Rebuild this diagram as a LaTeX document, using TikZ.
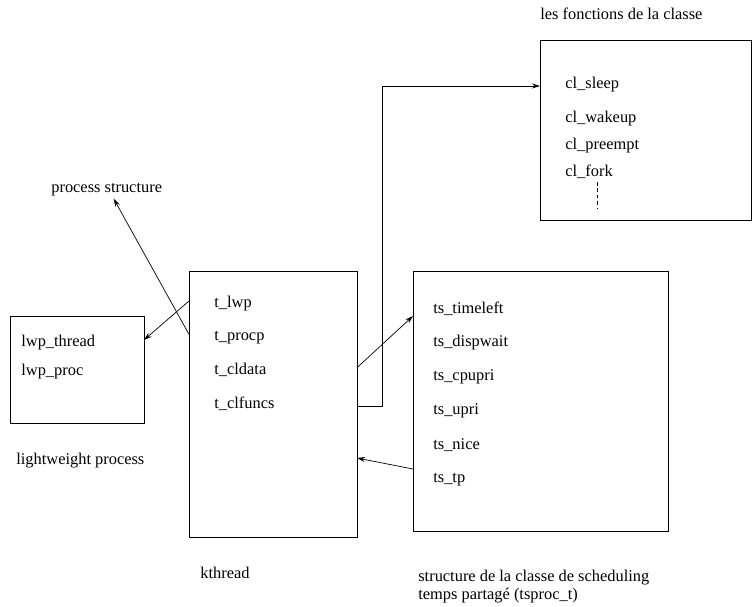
\documentclass[tikz,border=0pt]{standalone}
\usepackage{fontspec}
\setmainfont{Liberation Serif}
\usepackage{tikz}
\usetikzlibrary{arrows.meta,positioning,calc}

\begin{document}
\begin{tikzpicture}[x=0.03cm, y=-0.03cm, node distance=1.02cm,
    font=\fontsize{14}{17}\selectfont, line width=0.6pt,
    >={Stealth[length=2.4mm, width=1.5mm]}]
    % Define styles
    \tikzstyle{structbox} = [rectangle, draw, anchor=north west, inner sep=0pt, outer sep=0pt]
    \tikzstyle{field} = [text width=3cm, align=left, inner sep=0pt,
                         execute at begin node={\rule[-2pt]{0pt}{16pt}}]
    \tikzstyle{caption} = [anchor=west, inner sep=0pt, align=left]

    \useasboundingbox (0,0) rectangle (752,606);

    % Boxes
    \node[structbox, minimum width=4.02cm, minimum height=3.21cm] (lwp) at (10,316) {};
    \node[structbox, minimum width=5.04cm, minimum height=7.98cm] (kthread) at (189,271) {};
    \node[structbox, minimum width=7.65cm, minimum height=7.8cm] (tsproc) at (413,271) {};
    \node[structbox, minimum width=6.33cm, minimum height=5.4cm] (funcs) at (540,40) {};

    % Fields
    \node[field, anchor=west] (lwpthread) at (21,340) {lwp\_thread};
    \node[field, node distance=0.87cm, below of=lwpthread] (lwpproc) {lwp\_proc};

    \node[field, anchor=west] (tlwp) at (214,301) {t\_lwp};
    \node[field, node distance=1.0cm, below of=tlwp] (tprocp) {t\_procp};
    \node[field, node distance=1.0cm, below of=tprocp] (tcldata) {t\_cldata};
    \node[field, node distance=1.0cm, below of=tcldata] (tclfuncs) {t\_clfuncs};

    \node[field, anchor=west] (tstimeleft) at (433,306) {ts\_timeleft};
    \node[field, below of=tstimeleft] (tsdispwait) {ts\_dispwait};
    \node[field, below of=tsdispwait] (tscpupri) {ts\_cpupri};
    \node[field, below of=tscpupri] (tsupri) {ts\_upri};
    \node[field, below of=tsupri] (tsnice) {ts\_nice};
    \node[field, below of=tsnice] (tstp) {ts\_tp};

    \node[field, anchor=west] (clsleep) at (565,82) {cl\_sleep};
    \node[field, below of=clsleep] (clwakeup) {cl\_wakeup};
    \node[field, node distance=0.81cm, below of=clwakeup] (clpreempt) {cl\_preempt};
    \node[field, node distance=0.78cm, below of=clpreempt] (clfork) {cl\_fork};
    \draw[dash pattern=on 3pt off 2.5pt] (597,182) -- (597,209);

    % Captions
    \node[caption] (classfuncs) at (540,14) {les fonctions de la classe};
    \node[caption] (pstruct) at (51,190) {process structure};
    \node[caption] (lwplabel) at (16,461) {lightweight process};
    \node[caption] (kthlabel) at (200,573) {kthread};
    \node[caption, font=\fontsize{14}{15.3}\selectfont] (tslabel) at (418,587)
        {structure de la classe de scheduling\\temps partagé (tsproc\_t)};

    % Connections
    \draw[->] (kthread.west |- tlwp) -- (lwp.east |- lwpthread);
    \draw[->] (kthread.west |- tprocp) -- ([xshift=0.21cm, yshift=-0.06cm]pstruct.south);
    \draw[->] (kthread.east |- tcldata) -- ([yshift=-0.3cm]tsproc.west |- tstimeleft);
    \draw[->] ([yshift=0.21cm]tsproc.west |- tstp) -- ([yshift=0.54cm]kthread.east |- tstp);
    \draw[->] ([yshift=-0.15cm]kthread.east |- tclfuncs) -- ++(25,0)
        |- ([yshift=-0.12cm]funcs.west |- clsleep);
\end{tikzpicture}
\end{document}
